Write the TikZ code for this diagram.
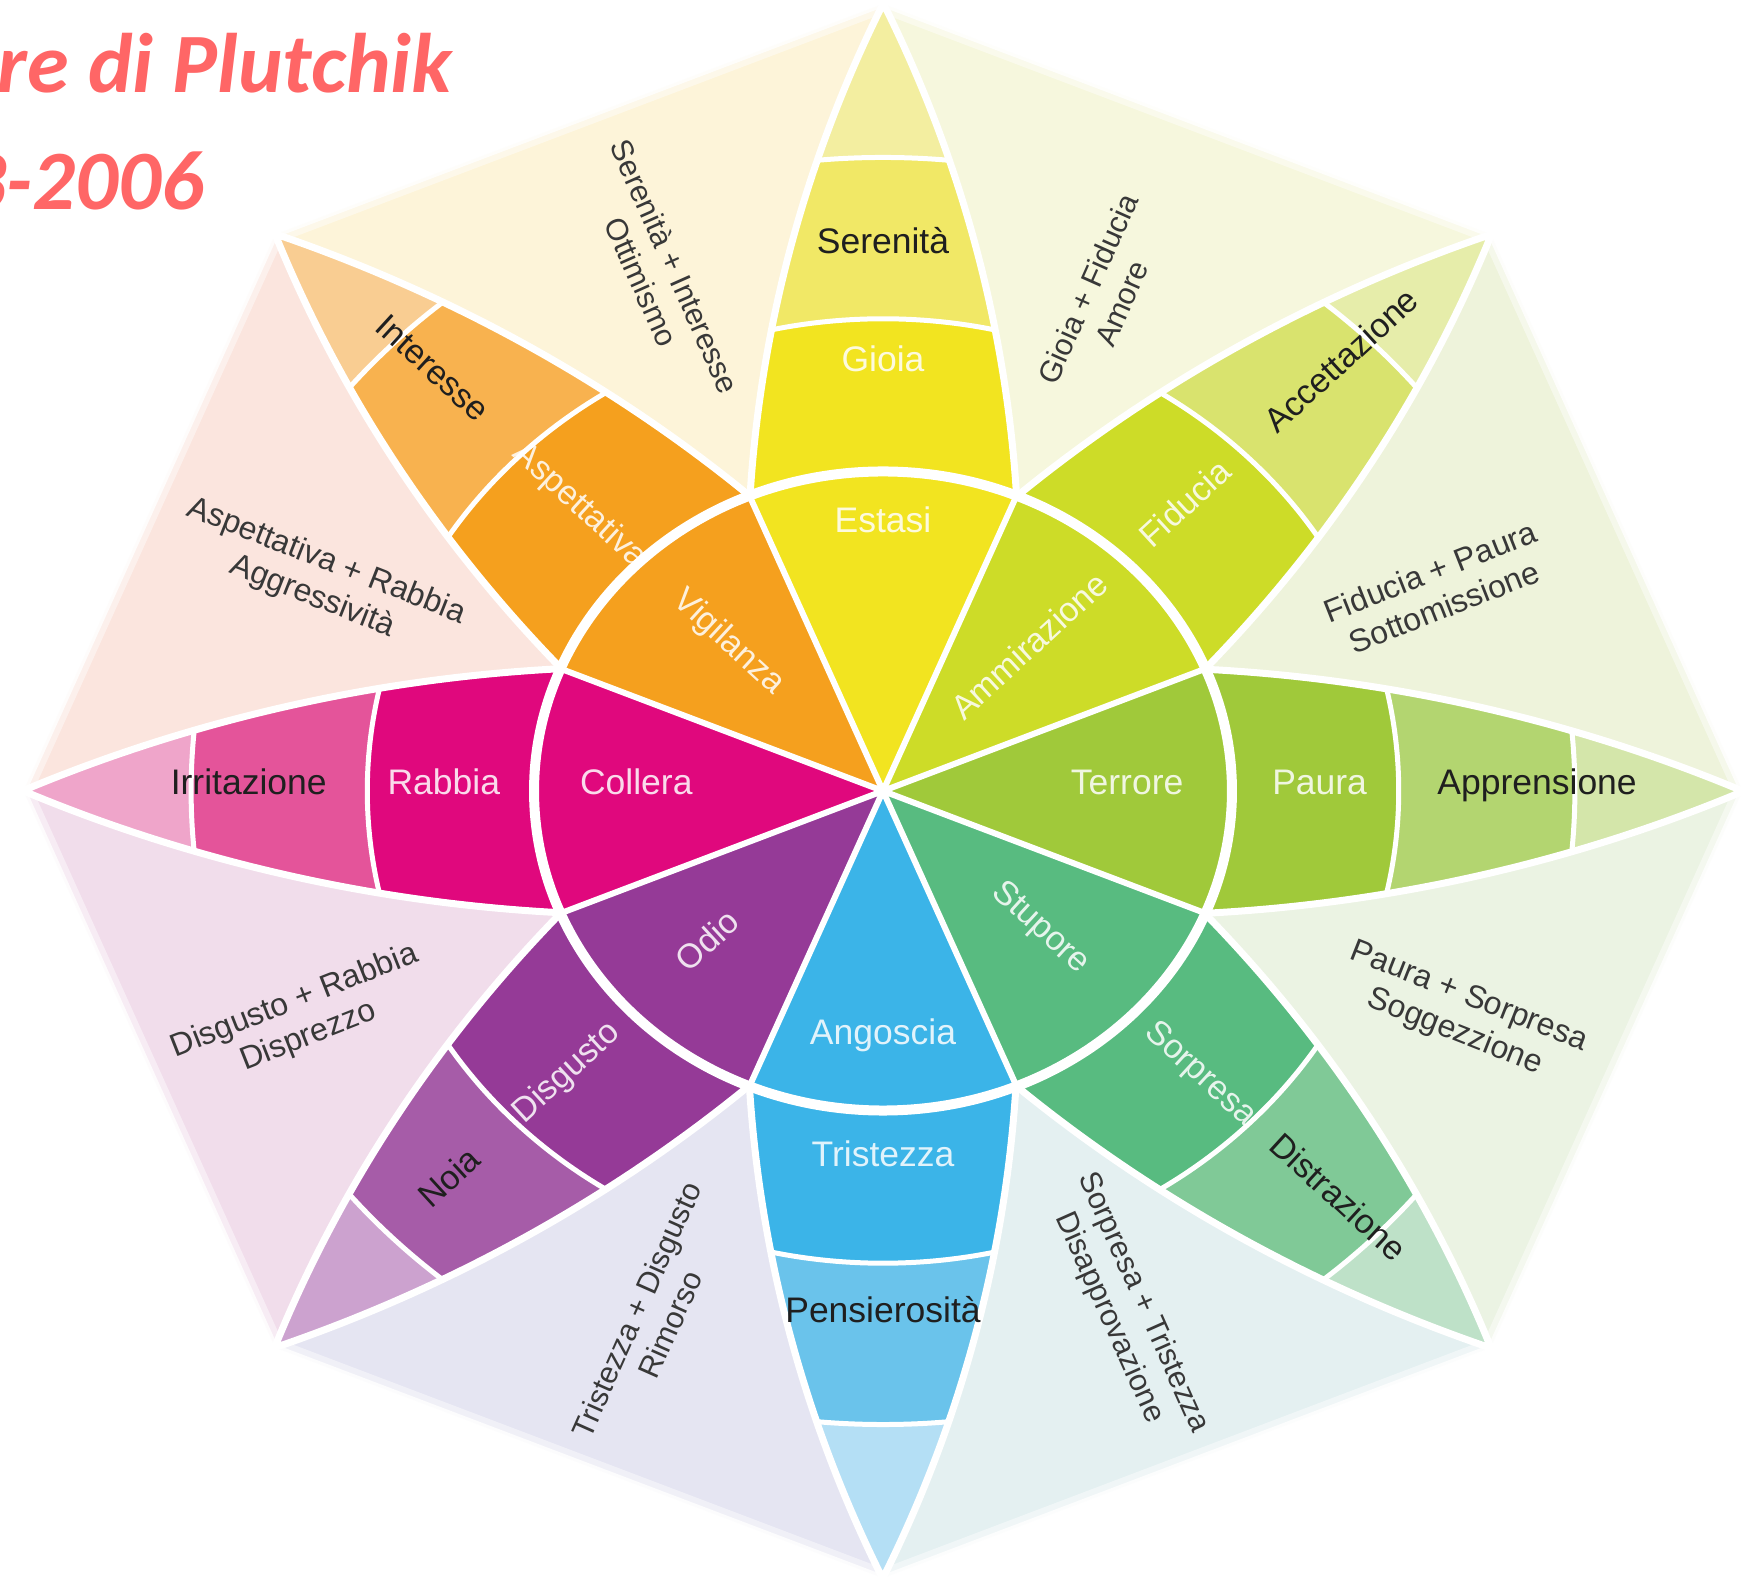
\documentclass[tikz,border=0pt]{standalone}
\usepackage{fontspec}
\setmainfont{Liberation Sans}
\newfontfamily\titlefont{Carlito}
% petal colours: pa = inner bands, pc = third band, pd = tip
\definecolor{pa0}{HTML}{A0C93A}\definecolor{pc0}{HTML}{B3D570}\definecolor{pd0}{HTML}{D4E6AA}
\definecolor{pa1}{HTML}{CDDC28}\definecolor{pc1}{HTML}{D9E36E}\definecolor{pd1}{HTML}{E6EDAA}
\definecolor{pa2}{HTML}{F2E420}\definecolor{pc2}{HTML}{F1E866}\definecolor{pd2}{HTML}{F3EEA0}
\definecolor{pa3}{HTML}{F5A01E}\definecolor{pc3}{HTML}{F8B24F}\definecolor{pd3}{HTML}{F9CD92}
\definecolor{pa4}{HTML}{E0087D}\definecolor{pc4}{HTML}{E4549A}\definecolor{pd4}{HTML}{EFA5CA}
\definecolor{pa5}{HTML}{953A97}\definecolor{pc5}{HTML}{A65CA8}\definecolor{pd5}{HTML}{CCA2CF}
\definecolor{pa6}{HTML}{3BB4E8}\definecolor{pc6}{HTML}{6AC3EB}\definecolor{pd6}{HTML}{B4DFF5}
\definecolor{pa7}{HTML}{58BB80}\definecolor{pc7}{HTML}{80C997}\definecolor{pd7}{HTML}{BEE1C8}
% background wedges between petal k and k+1
\definecolor{bg0}{HTML}{EEF3DB}\definecolor{bg1}{HTML}{F6F7DD}
\definecolor{bg2}{HTML}{FDF4D9}\definecolor{bg3}{HTML}{FBE5DE}
\definecolor{bg4}{HTML}{F1DDEB}\definecolor{bg5}{HTML}{E5E5F2}
\definecolor{bg6}{HTML}{E4F0F1}\definecolor{bg7}{HTML}{EBF3E3}
\definecolor{titlecol}{RGB}{255,102,102}
\begin{document}
\begin{tikzpicture}[x=1pt,y=1pt,
  lab/.style={font=\fontsize{35.5}{40}\selectfont, text height=0.72em, text depth=0pt, inner sep=0pt},
  diag/.style={font=\fontsize{34}{38}\selectfont},
  wl/.style={lab, text=white, text opacity=0.85},
  bl/.style={lab, text=black!88},
  dy/.style={font=\fontsize{32}{38}\selectfont, align=center, text=black!78, inner sep=0pt},
  dysteep/.style={dy, font=\fontsize{30.5}{37}\selectfont},
  gap/.style={white, line width=7, line join=round},
  band/.style={white, line width=5},
  ttl/.style={anchor=base east, text=titlecol, inner sep=0pt, font=\titlefont\fontsize{84.5}{92}\selectfont\bfseries\itshape}]
\clip (0,0) rectangle (1748,1588);
\fill[white] (0,0) rectangle (1748,1588);
\begin{scope}[shift={(883,797)}, xscale=859.5, yscale=787]
  % background octagon wedges
  \foreach \k in {0,...,7} {
    \fill[bg\k] (0,0) -- ({45*\k}:1) -- ({45*\k+45}:1) -- cycle;
  }
  % soft white rim of the octagon
  \draw[white, line width=18, opacity=0.45, line join=round]
    (0:1) -- (45:1) -- (90:1) -- (135:1) -- (180:1) -- (225:1) -- (270:1) -- (315:1) -- cycle;
  \draw[white, line width=6, opacity=0.8, line join=round]
    (0:1) -- (45:1) -- (90:1) -- (135:1) -- (180:1) -- (225:1) -- (270:1) -- (315:1) -- cycle;
  % petals
  \foreach \k in {0,...,7} {
    \begin{scope}[rotate=45*\k]
      \begin{scope}
        \clip (0,0) -- (0.3751,-0.1554) arc[start angle=-86.76, end angle=-65.41, radius=1.7401]
              arc[start angle=65.41, end angle=86.76, radius=1.7401] -- cycle;
        \fill[pd\k] (0,0) circle[radius=1.05];
        \fill[pc\k] (0,0) circle[radius=0.805];
        \fill[pa\k] (0,0) circle[radius=0.6];
        \draw[band] (0,0) circle[radius=0.6] (0,0) circle[radius=0.805];
      \end{scope}
      \draw[gap] (0.3751,-0.1554) arc[start angle=-86.76, end angle=-65.41, radius=1.7401]
              arc[start angle=65.41, end angle=86.76, radius=1.7401];
    \end{scope}
  }
  % inner wedges and ring
  \foreach \k in {0,...,7} {
    \draw[white, line width=6] (0,0) -- ({45*\k+22.5}:0.406);
  }
  \draw[white, line width=10] (0,0) circle[radius=0.406];

  % petal labels
  \node[wl] (estasi) at (90:0.333) {Estasi};
  \node[wl] (gioia) at (90:0.537) {Gioia};
  \node[bl] (serenita) at (90:0.687) {Serenità};
  \node[wl, diag, rotate=42.5] (ammirazione) at (45:0.25) {Ammirazione};
  \node[wl, diag, rotate=42.5] (fiducia) at (45:0.506) {Fiducia};
  \node[bl, diag, rotate=42.5] (accettazione) at (45:0.763) {Accettazione};
  \node[wl] (terrore) at (0:0.284) {Terrore};
  \node[wl] (paura) at (0:0.508) {Paura};
  \node[bl] (apprensione) at (0:0.761) {Apprensione};
  \node[wl, diag, rotate=-42.5] (stupore) at (-45:0.253) {Stupore};
  \node[wl, diag, rotate=-42.5] (sorpresa) at (-45:0.516) {Sorpresa};
  \node[bl, diag, rotate=-42.5] (distrazione) at (-45:0.74) {Distrazione};
  \node[wl] (angoscia) at (-90:0.318) {Angoscia};
  \node[wl] (tristezza) at (-90:0.472) {Tristezza};
  \node[bl] (pensierosita) at (-90:0.671) {Pensierosità};
  \node[wl, diag, rotate=42.5] (odio) at (225:0.28) {Odio};
  \node[wl, diag, rotate=42.5] (disgusto) at (225:0.514) {Disgusto};
  \node[bl, diag, rotate=42.5] (noia) at (225:0.705) {Noia};
  \node[wl] (collera) at (180:0.287) {Collera};
  \node[wl] (rabbia) at (180:0.511) {Rabbia};
  \node[bl] (irritazione) at (180:0.738) {Irritazione};
  \node[wl, diag, rotate=-42.5] (vigilanza) at (135:0.26) {Vigilanza};
  \node[wl, diag, rotate=-42.5] (aspettativa) at (135:0.505) {Aspettativa};
  \node[bl, diag, rotate=-42.5] (interesse) at (135:0.75) {Interesse};

  % dyads
  \node[dysteep, rotate=-66] (ottimismo) at (111.7:0.707) {Serenità + Interesse\\Ottimismo};
  \node[dysteep, rotate=66] (amore) at (67.7:0.68) {Gioia + Fiducia\\Amore};
  \node[dy, rotate=21.5] (sottomissione) at (21.7:0.694) {Fiducia + Paura\\Sottomissione};
  \node[dy, rotate=-21.5] (soggezione) at (-22.9:0.731) {Paura + Sorpresa\\Soggezzione};
  \node[dysteep, rotate=-66] (disapprovazione) at (-66.8:0.718) {Sorpresa + Tristezza\\Disapprovazione};
  \node[dysteep, rotate=66] (rimorso) at (248.2:0.72) {Tristezza + Disgusto\\Rimorso};
  \node[dy, rotate=21.5] (disprezzo) at (203.2:0.736) {Disgusto + Rabbia\\Disprezzo};
  \node[dy, rotate=-21.5] (aggressivita) at (157.7:0.709) {Aspettativa + Rabbia\\Aggressività};
\end{scope}
% title
\node[ttl] (title1) at (452,1495) {re di Plutchik};
\node[ttl] (title2) at (204,1378) {3-2006};
\end{tikzpicture}
\end{document}
